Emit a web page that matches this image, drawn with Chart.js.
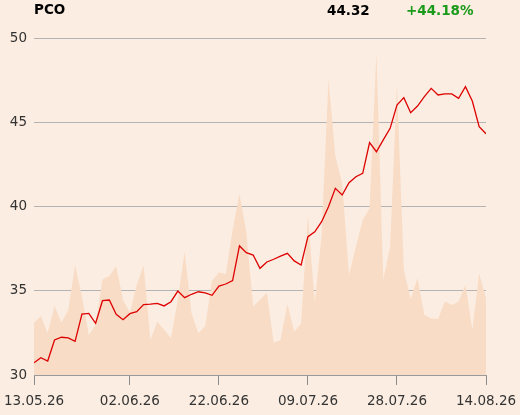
<!DOCTYPE html>
<html>
<head>
<meta charset="utf-8">
<script src="https://cdn.jsdelivr.net/npm/chart.js@4"></script>
<style>
  html, body { margin: 0; padding: 0; background: #fbede1; }
  #wrap { width: 520px; height: 415px; position: relative; }
</style>
</head>
<body>
<div id="wrap"><canvas id="priceChart" width="520" height="415"></canvas></div>
<script>
const symbol = 'PCO';
const lastPrice = '44.32';
const change = '+44.18%';

const tickIndex = [0, 14, 27, 40, 53, 66];
const tickLabels = ['13.05.26', '02.06.26', '22.06.26', '09.07.26', '28.07.26', '14.08.26'];

const prices = [
    30.73, 31.03, 30.83, 32.08, 32.24, 32.20, 32.00, 33.62, 33.66, 33.07,
    34.41, 34.45, 33.60, 33.28, 33.64, 33.76, 34.18, 34.21, 34.25, 34.10,
    34.35, 34.98, 34.59, 34.79, 34.94, 34.87, 34.73, 35.28, 35.40, 35.60,
    37.66, 37.26, 37.12, 36.33, 36.71, 36.87, 37.06, 37.22, 36.77, 36.53,
    38.21, 38.50, 39.10, 39.99, 41.08, 40.68, 41.41, 41.77, 41.97, 43.79,
    43.25, 43.95, 44.64, 46.02, 46.46, 45.57, 45.96, 46.52, 47.01, 46.62,
    46.68, 46.68, 46.42, 47.11, 46.26, 44.74, 44.32
];

// volume, in percent of the plot height
const volume = [
    15.5, 17.5, 12.4, 20.5, 15.5, 19.3, 32.6, 23.2, 11.9, 14.8,
    28.4, 29.4, 32.3, 22.3, 18.5, 26.7, 32.6, 10.4, 15.8, 13.4,
    10.9, 22.3, 36.6, 18.3, 12.4, 14.5, 28.0, 30.4, 30.0, 43.0,
    53.7, 42.5, 20.3, 22.3, 24.4, 9.6, 10.4, 21.1, 12.8, 15.3,
    47.2, 21.3, 41.5, 87.7, 65.0, 56.9, 29.7, 38.1, 46.0, 49.5,
    95.5, 28.2, 38.1, 86.1, 31.2, 22.5, 28.7, 17.8, 16.8, 16.6,
    21.8, 20.8, 21.8, 26.7, 13.4, 30.2, 22.8
];

const FONT = 'DejaVu Sans';

const headerPlugin = {
    id: 'header',
    afterDraw(chart) {
        const c = chart.ctx;
        c.save();
        c.font = 'bold 13.5px ' + FONT;
        c.textBaseline = 'middle';
        c.fillStyle = '#000';
        c.fillText(symbol, 34, 10);
        c.fillText(lastPrice, 327, 11);
        c.fillStyle = '#1a9a1a';
        c.fillText(change, 406, 11);
        c.restore();
    }
};

const ctx = document.getElementById('priceChart').getContext('2d');
new Chart(ctx, {
    type: 'line',
    data: {
        datasets: [
            {
                label: 'Price',
                data: prices.map((v, i) => ({ x: i, y: v })),
                borderColor: '#dd0000',
                borderWidth: 1.3,
                pointRadius: 0,
                tension: 0,
                fill: false,
                yAxisID: 'y',
                order: 0
            },
            {
                label: 'Volume',
                data: volume.map((v, i) => ({ x: i, y: v })),
                borderWidth: 0,
                borderColor: 'rgba(0,0,0,0)',
                backgroundColor: '#f8dcc6',
                pointRadius: 0,
                tension: 0,
                fill: 'origin',
                yAxisID: 'vol',
                order: 1
            }
        ]
    },
    options: {
        responsive: false,
        animation: false,
        events: [],
        layout: { padding: { top: 38, right: 34, left: 0, bottom: 0 } },
        plugins: { legend: { display: false }, tooltip: { enabled: false } },
        scales: {
            x: {
                type: 'linear',
                min: 0,
                max: prices.length - 1,
                afterBuildTicks: s => { s.ticks = tickIndex.map(v => ({ value: v })); },
                afterFit: s => { s.height = 40; s.paddingLeft = 0; s.paddingRight = 0; },
                grid: { drawOnChartArea: false, drawTicks: true, tickLength: 10, color: '#8c8c8c' },
                border: { display: true, color: '#9a9a9a', width: 1 },
                ticks: {
                    autoSkip: false,
                    maxRotation: 0,
                    padding: 8,
                    color: '#333',
                    font: { family: FONT, size: 13.5 },
                    callback: v => tickLabels[tickIndex.indexOf(v)] || ''
                }
            },
            y: {
                position: 'left',
                min: 30,
                max: 50,
                afterFit: s => { s.width = 34; },
                grid: { color: '#b3b3b3', drawTicks: false, lineWidth: 1 },
                border: { display: false },
                ticks: {
                    stepSize: 5,
                    padding: 7,
                    color: '#333',
                    font: { family: FONT, size: 13.5 }
                }
            },
            vol: {
                display: false,
                min: 0,
                max: 100
            }
        }
    },
    plugins: [headerPlugin]
});
</script>
</body>
</html>
